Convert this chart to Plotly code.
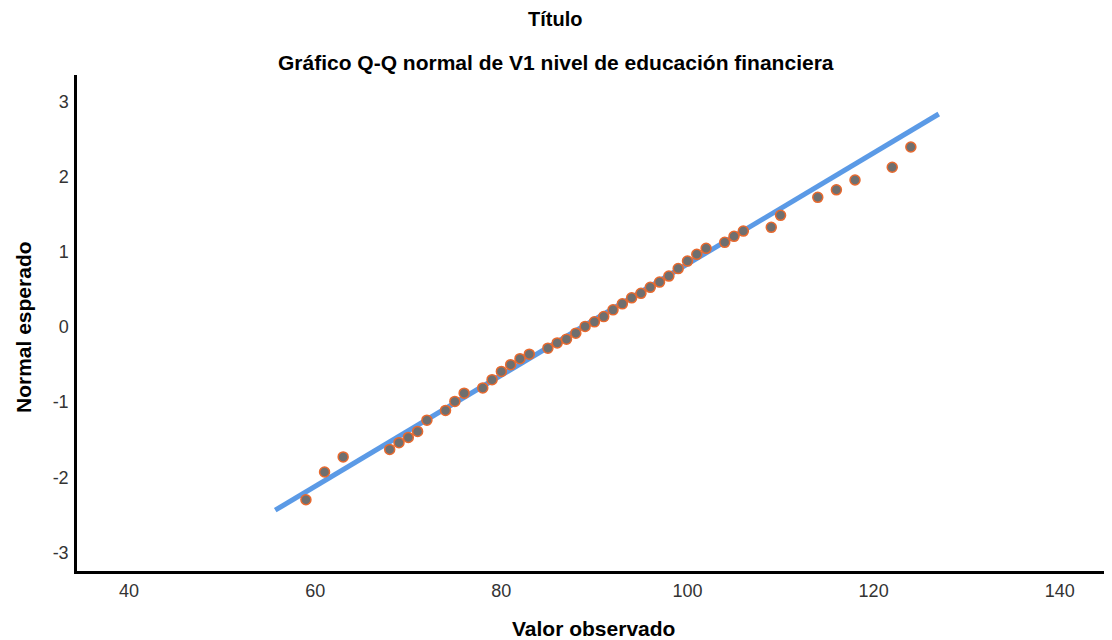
import plotly.graph_objects as go

# Observed values (V1 nivel de educación financiera)
observed = [59, 61, 63, 68, 69, 70, 71, 72, 74, 75, 76, 78, 79, 80, 81, 82, 83,
            85, 86, 87, 88, 89, 90, 91, 92, 93, 94, 95, 96, 97, 98, 99, 100,
            101, 102, 104, 105, 106, 109, 110, 114, 116, 118, 122, 124]
# Expected normal values
expected = [-2.30, -1.93, -1.73, -1.63, -1.54, -1.47, -1.39, -1.24, -1.11, -0.99,
            -0.88, -0.81, -0.70, -0.59, -0.50, -0.42, -0.36, -0.28, -0.21, -0.16,
            -0.08, 0.01, 0.07, 0.14, 0.23, 0.31, 0.39, 0.45, 0.53, 0.60, 0.68,
            0.78, 0.88, 0.97, 1.05, 1.13, 1.21, 1.28, 1.33, 1.49, 1.73, 1.83,
            1.96, 2.13, 2.40]
# Reference line endpoints
line_x = [55.7, 127.0]
line_y = [-2.44, 2.84]

x_ticks = [40, 60, 80, 100, 120, 140]
y_ticks = [-3, -2, -1, 0, 1, 2, 3]

font_family = "Liberation Sans, Arial, sans-serif"

# The page body has an 8px default margin; size the figure to fit the window.
OFF = 8
W, H = 1112 - OFF, 640 - OFF
ML, MR, MT, MB = 77 - OFF, 2, 75 - OFF, 69
plot_w = W - ML - MR
plot_h = H - MT - MB


def px_x(px):
    return (px - OFF - ML) / plot_w


def px_y(py):
    return 1 + (MT - (py - OFF)) / plot_h


fig = go.Figure()
fig.add_trace(go.Scatter(
    x=line_x, y=line_y, mode="lines",
    line=dict(color="#5b9ae6", width=5),
    hoverinfo="skip", showlegend=False))
fig.add_trace(go.Scatter(
    x=observed, y=expected, mode="markers",
    marker=dict(size=10, color="#6f6f6f",
                line=dict(color="#e8692e", width=1.5)),
    showlegend=False))

fig.update_layout(
    width=W, height=H,
    margin=dict(l=ML, r=MR, t=MT, b=MB, autoexpand=False),
    paper_bgcolor="white", plot_bgcolor="white",
    font=dict(family=font_family, color="#222222"),
    annotations=[
        dict(text="<b>Título</b>", x=px_x(555), y=px_y(19),
             xref="paper", yref="paper", xanchor="center", yanchor="middle",
             showarrow=False, font=dict(size=20, color="black")),
        dict(text="<b>Gráfico Q-Q normal de V1 nivel de educación financiera</b>",
             x=px_x(556), y=px_y(62), xref="paper", yref="paper",
             xanchor="center", yanchor="middle", showarrow=False,
             font=dict(size=21, color="black")),
        dict(text="<b>Valor observado</b>", x=px_x(593), y=px_y(628),
             xref="paper", yref="paper", xanchor="center", yanchor="middle",
             showarrow=False, font=dict(size=21, color="black")),
        dict(text="<b>Normal esperado</b>", x=px_x(23), y=px_y(327),
             xref="paper", yref="paper", xanchor="center", yanchor="middle",
             textangle=-90, showarrow=False,
             font=dict(size=21, color="black")),
    ],
)

fig.update_xaxes(
    range=[34.4, 145.4], tickvals=x_ticks, ticktext=[str(v) for v in x_ticks],
    showgrid=False, zeroline=False, showline=True, linecolor="black",
    linewidth=2.5, ticks="", ticklabelstandoff=2, automargin=False,
    tickfont=dict(size=18, color="#333333", family=font_family),
)
fig.update_yaxes(
    range=[-3.25, 3.36], tickvals=y_ticks, ticktext=[str(v) for v in y_ticks],
    showgrid=False, zeroline=False, showline=True, linecolor="black",
    linewidth=2.5, ticks="", ticklabelstandoff=2, automargin=False,
    tickfont=dict(size=18, color="#333333", family=font_family),
)

fig.write_html("out.html")
